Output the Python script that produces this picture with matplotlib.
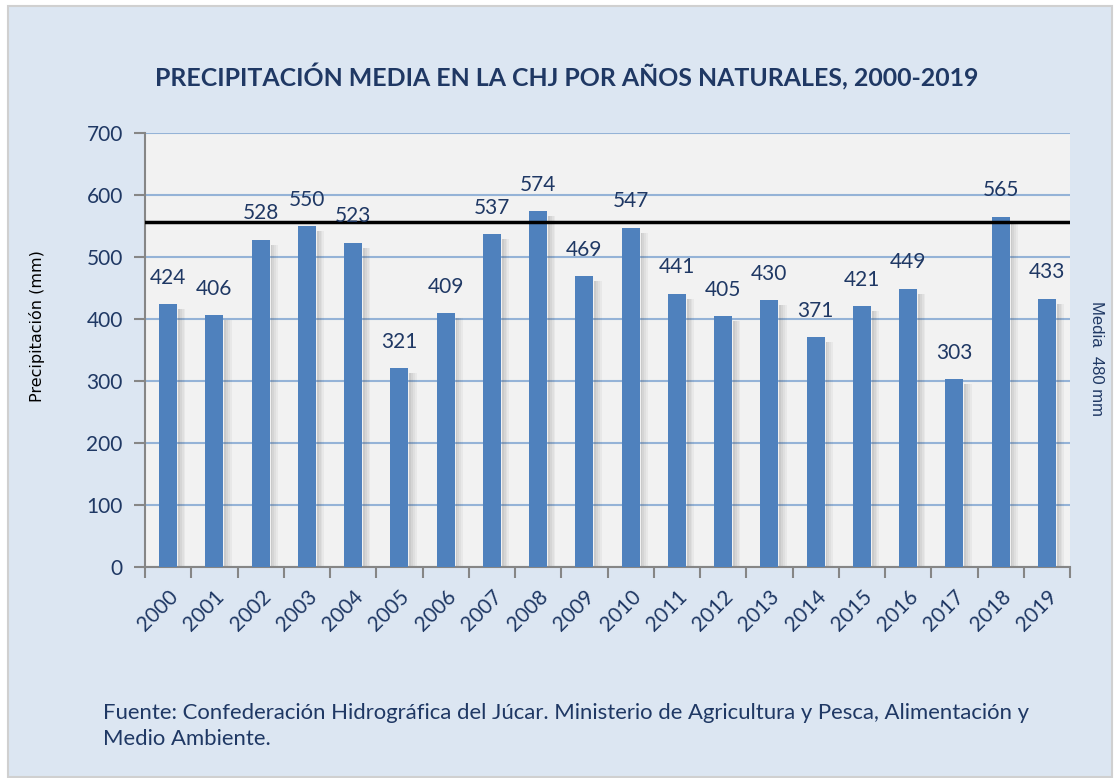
import numpy as np
import matplotlib
matplotlib.use("Agg")
import matplotlib.pyplot as plt
from matplotlib.patches import Rectangle

years = [str(y) for y in range(2000, 2020)]
precip = [424, 406, 528, 550, 523, 321, 409, 537, 574, 469,
          547, 441, 405, 430, 371, 421, 449, 303, 565, 433]
media_line = 557
media_text = "Media  480 mm"
title = "PRECIPITACIÓN MEDIA EN LA CHJ POR AÑOS NATURALES, 2000-2019"
ylabel = "Precipitación (mm)"
fuente = ("Fuente: Confederación Hidrográfica del Júcar. Ministerio de Agricultura y Pesca, Alimentación y\n"
          "Medio Ambiente.")

navy = "#1f3864"
bar_color = "#4f81bd"
grid_color = "#95b3d7"
bg = "#dce6f2"

plt.rcParams['font.family'] = ['Lato', 'DejaVu Sans']

fig = plt.figure(figsize=(11.2, 7.78), dpi=100)
fig.patch.set_facecolor("white")
fig.patches.append(Rectangle((8/1120, 1/778), 1104/1120, 771/778, transform=fig.transFigure,
                             facecolor=bg, edgecolor="#d0d0d0", lw=1.5, zorder=-1))

ax = fig.add_axes([145/1120, (778-567)/778, 925/1120, 434/778])
ax.set_zorder(1)
ax.set_facecolor("#f2f2f2")

x = np.arange(len(years))
w = 0.39
# soft shadow to the right of each bar
for k, a in enumerate([0.22, 0.16, 0.10, 0.05]):
    ax.bar(x + w/2 + 0.02 + k*0.04, np.array(precip) - 8, width=0.04, bottom=0,
           color="#404040", alpha=a, align="edge", zorder=2, lw=0)
ax.bar(x, precip, width=w, color=bar_color, zorder=3)

for xi, v in zip(x, precip):
    ax.annotate(str(v), (xi, v), xytext=(0, 19), textcoords="offset points",
                ha="center", va="center", fontsize=15, color=navy, zorder=5)

ax.axhline(media_line, color="black", lw=2.5, zorder=4)

ax.set_xlim(-0.5, len(years) - 0.5)
ax.set_ylim(0, 700)
ax.set_yticks(range(0, 701, 100))
ax.yaxis.grid(True, color=grid_color, lw=1.5, zorder=1)
ax.set_axisbelow(True)

ax.set_xticks(x)
ax.set_xticklabels(years, rotation=45, ha="right", rotation_mode="anchor",
                   fontsize=15, color=navy)
ax.set_xticks(np.arange(-0.5, len(years)), minor=True)
ax.tick_params(axis="x", which="major", length=0, pad=14)
ax.tick_params(axis="x", which="minor", length=8, width=1.5, color="#868686")
ax.tick_params(axis="y", length=8, width=1.5, color="#868686", labelsize=15,
               labelcolor=navy, pad=8)

for s in ["top", "right"]:
    ax.spines[s].set_visible(False)
for s in ["left", "bottom"]:
    ax.spines[s].set_color("#868686")
    ax.spines[s].set_linewidth(1.5)

fig.text(567/1120, 1 - 77/778, title, ha="center", va="center",
         fontsize=17.9, fontweight="bold", color=navy)
fig.text(37/1120, 1 - 326/778, ylabel, rotation=90, ha="center", va="center",
         fontsize=11.5, color="black", family=['Liberation Sans Narrow', 'DejaVu Sans'])
fig.text(1096/1120, 1 - 359/778, media_text, rotation=270, ha="center", va="center",
         fontsize=12, color=navy, family=['Liberation Sans', 'DejaVu Sans'])
fig.text(103/1120, 1 - 726/778, fuente, ha="left", va="center",
         fontsize=15.9, color=navy, linespacing=1.35)

fig.savefig("out.png", dpi=100, facecolor=fig.get_facecolor())
